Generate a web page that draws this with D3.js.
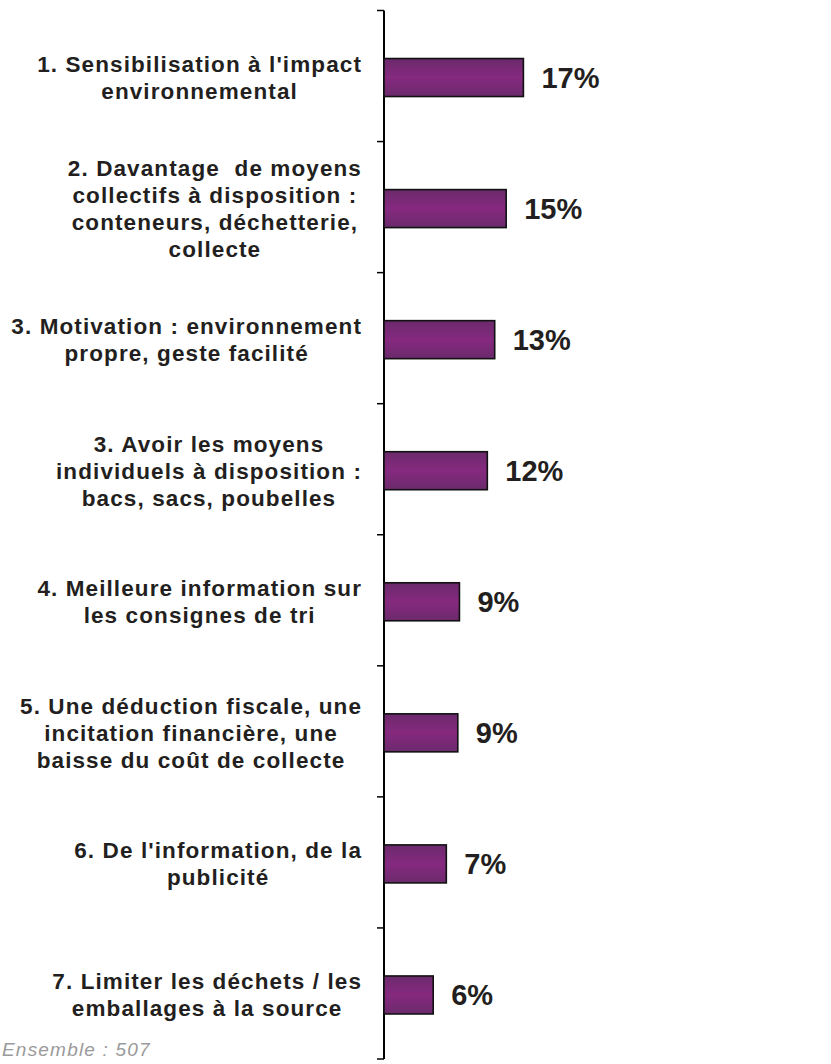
<!DOCTYPE html>
<html>
<head>
<meta charset="utf-8">
<script src="https://cdn.jsdelivr.net/npm/d3@7"></script>
<style>
  body{margin:0;background:#fff;}
  svg{display:block;}
  .cat{font-family:"Liberation Sans",Arial,sans-serif;font-weight:bold;font-size:22.5px;letter-spacing:1.1px;fill:#231f20;white-space:pre;}
  .val{font-family:"Liberation Sans",Arial,sans-serif;font-weight:bold;font-size:29px;fill:#231f20;}
</style>
</head>
<body>
<script>
// categories (each line of a label is one entry)
var categories=[
  ["1. Sensibilisation à l'impact","environnemental"],
  ["2. Davantage  de moyens","collectifs à disposition :","conteneurs, déchetterie,","collecte"],
  ["3. Motivation : environnement","propre, geste facilité"],
  ["3. Avoir les moyens","individuels à disposition :","bacs, sacs, poubelles"],
  ["4. Meilleure information sur","les consignes de tri"],
  ["5. Une déduction fiscale, une","incitation financière, une","baisse du coût de collecte"],
  ["6. De l'information, de la","publicité"],
  ["7. Limiter les déchets / les","emballages à la source"]
]
var values=[17.0,14.9,13.5,12.6,9.2,9.0,7.6,6.0]
var valueLabels=['17%','15%','13%','12%','9%','9%','7%','6%']
var baseNote='Ensemble : 507'

var W=831,H=1064
var svg=d3.select('body').append('svg').attr('width',W).attr('height',H)

var defs=svg.append('defs')
var grad=defs.append('linearGradient').attr('id','barGrad').attr('x1',0).attr('y1',0).attr('x2',0).attr('y2',1)
grad.append('stop').attr('offset','0%').attr('stop-color','#6b2a6c')
grad.append('stop').attr('offset','50%').attr('stop-color','#86297f')
grad.append('stop').attr('offset','100%').attr('stop-color','#6b2a6c')

var ids=d3.range(categories.length)
var y=d3.scaleBand().domain(ids).range([10.5,1059]).padding(0)
var x=d3.scaleLinear().domain([0,20]).range([384,384+164])
var barH=38

// axis line + ticks on band boundaries
var axisG=svg.append('g')
axisG.append('line').attr('x1',x(0)).attr('x2',x(0)).attr('y1',y.range()[0]).attr('y2',y.range()[1])
  .attr('stroke','#000').attr('stroke-width',2)
var tickYs=ids.map(function(d){return y(d)}).concat([y.range()[1]])
axisG.selectAll('.tick').data(tickYs).enter().append('line')
  .attr('x1',x(0)-7).attr('x2',x(0)).attr('y1',function(d){return d}).attr('y2',function(d){return d})
  .attr('stroke','#000').attr('stroke-width',1.5)

// bars
svg.selectAll('.bar').data(ids).enter().append('rect')
  .attr('x',x(0))
  .attr('y',function(i){return y(i)+y.bandwidth()/2-barH/2+1.5})
  .attr('width',function(i){return x(values[i])-x(0)})
  .attr('height',barH)
  .attr('fill','url(#barGrad)')
  .attr('stroke','#111').attr('stroke-width',1.6)

// value labels
svg.selectAll('.val').data(ids).enter().append('text').attr('class','val')
  .attr('x',function(i){return x(values[i])+18})
  .attr('y',function(i){return y(i)+y.bandwidth()/2+1.5})
  .attr('dy','0.36em')
  .text(function(i){return valueLabels[i]})

// category labels: block right edge at 362, lines centred inside
var lineH=27
categories.forEach(function(lines,i){
  var g=svg.append('g')
  var cy=y(i)+y.bandwidth()/2+1.5
  var t=g.selectAll('text').data(lines).enter().append('text').attr('class','cat')
    .attr('text-anchor','middle')
    .attr('y',function(d,k){return cy+(k-(lines.length-1)/2)*lineH})
    .attr('dy','0.35em')
    .text(function(d){return d})
  var maxW=d3.max(t.nodes(),function(n){return n.getComputedTextLength()})
  t.attr('x',362-maxW/2)
})

// base note
svg.append('text').attr('x',2).attr('y',1056)
  .style('font-family','"Liberation Sans",Arial,sans-serif').style('font-style','italic')
  .style('font-size','19px').style('letter-spacing','1.2px').style('fill','#9a9a9a')
  .text(baseNote)
</script>
</body>
</html>
